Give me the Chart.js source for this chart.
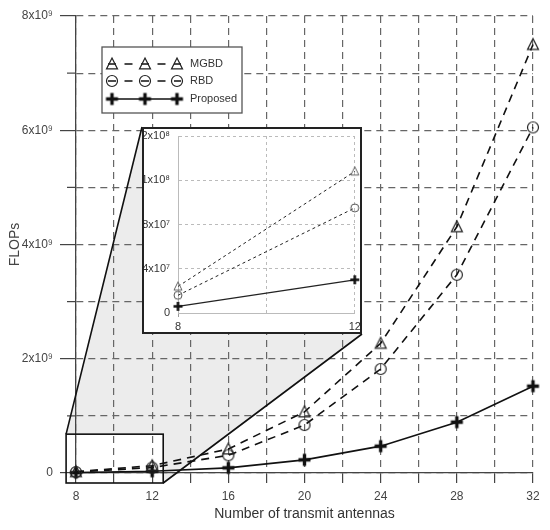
<!DOCTYPE html>
<html>
<head>
<meta charset="utf-8">
<script src="https://cdn.jsdelivr.net/npm/chart.js@4.4.1/dist/chart.umd.min.js"></script>
<style>
  html, body { margin: 0; padding: 0; background: #fff; }
  #wrap { position: relative; width: 550px; height: 530px; }
  #inset { position: absolute; left: 142px; top: 127px; width: 220px; height: 207px;
           box-sizing: border-box; border: 2px solid #222; background: #fff; }
  canvas { display: block; }
</style>
</head>
<body>
<div id="wrap">
  <canvas id="main" width="550" height="530"></canvas>
  <div id="inset"><canvas id="zoom" width="216" height="203"></canvas></div>
</div>
<script>
// values
const antennas = [8, 12, 16, 20, 24, 28, 32];
const mgbd = [2.4e7, 1.28e8, 4.2e8, 1.07e9, 2.27e9, 4.31e9, 7.5e9];
const rbd = [1.6e7, 9.5e7, 3.1e8, 8.4e8, 1.82e9, 3.47e9, 6.05e9];
const proposed = [6e6, 3.0e7, 9e7, 2.3e8, 4.7e8, 8.9e8, 1.52e9];
const mainYLabels = ['0', '', '2x10⁹', '', '4x10⁹', '', '6x10⁹', '', '8x10⁹'];
const insetYLabels = ['0', '4x10⁷', '8x10⁷', '1x10⁸', '2x10⁸'];
const insetPoints = 2; // the zoomed view only holds 8 and 12 antennas

Chart.defaults.font.family = '"Liberation Sans", Arial, sans-serif';
Chart.defaults.color = '#444';

function marker(kind, s, lw, color) {
  const n = Math.ceil(s + lw * 2 + 2);
  const c = document.createElement('canvas');
  c.width = n; c.height = n;
  const g = c.getContext('2d');
  const m = n / 2;
  g.strokeStyle = color;
  g.lineWidth = lw;
  g.beginPath();
  if (kind === 'tri') {
    const h = s * 0.9;
    g.moveTo(m, m - h / 2 - 1);
    g.lineTo(m + s / 2, m + h / 2);
    g.lineTo(m - s / 2, m + h / 2);
    g.closePath();
  } else if (kind === 'circ') {
    g.arc(m, m, s / 2, 0, Math.PI * 2);
  } else {
    g.moveTo(m - s / 2, m); g.lineTo(m + s / 2, m);
    g.moveTo(m, m - s / 2); g.lineTo(m, m + s / 2);
  }
  g.stroke();
  return c;
}

const triBig = marker('tri', 11, 1.2, '#222');
const circBig = marker('circ', 11, 1.2, '#222');
const plusBig = marker('plus', 12, 3.4, '#111');
const triSmall = marker('tri', 8, 1, '#666');
const circSmall = marker('circ', 8, 1, '#555');
const plusSmall = marker('plus', 9, 2.6, '#111');

const pts = (ys, n) => antennas.slice(0, n).map((x, i) => ({ x: x, y: ys[i] }));

const decor = {
  id: 'decor',
  beforeDraw(chart) {
    const { ctx, scales: { x, y } } = chart;
    const L = x.getPixelForValue(7.48), R = x.getPixelForValue(12.58);
    const T = y.getPixelForValue(6.8e8), B = y.getPixelForValue(-1.75e8);
    ctx.save();
    ctx.fillStyle = '#ececec';
    ctx.beginPath();
    ctx.moveTo(L, T);
    ctx.lineTo(142, 127);
    ctx.lineTo(362, 334);
    ctx.lineTo(R, B);
    ctx.lineTo(R, T);
    ctx.closePath();
    ctx.fill();
    ctx.restore();
  },
  afterDraw(chart) {
    const { ctx, scales: { x, y } } = chart;
    ctx.save();
    // short minor ticks on the y axis
    ctx.strokeStyle = '#444';
    ctx.lineWidth = 1.2;
    [1e9, 3e9, 5e9, 7e9].forEach(v => {
      const py = y.getPixelForValue(v);
      ctx.beginPath(); ctx.moveTo(x.left - 9, py); ctx.lineTo(x.left, py); ctx.stroke();
    });
    // zoom box and connectors
    const L = x.getPixelForValue(7.48), R = x.getPixelForValue(12.58);
    const T = y.getPixelForValue(6.8e8), B = y.getPixelForValue(-1.75e8);
    ctx.strokeStyle = '#111';
    ctx.lineWidth = 1.6;
    ctx.strokeRect(L, T, R - L, B - T);
    ctx.beginPath();
    ctx.moveTo(L, T); ctx.lineTo(142, 127);
    ctx.moveTo(R, B); ctx.lineTo(362, 334);
    ctx.stroke();

    // legend
    ctx.fillStyle = '#fff';
    ctx.fillRect(102, 47, 140, 66);
    ctx.strokeStyle = '#555';
    ctx.lineWidth = 1.3;
    ctx.strokeRect(102, 47, 140, 66);
    const rows = [
      { label: 'MGBD', img: triBig, dash: [8, 8.5], y: 64 },
      { label: 'RBD', img: circBig, dash: [8, 8.5], y: 81 },
      { label: 'Proposed', img: plusBig, dash: [], y: 99 }
    ];
    const xs = [112, 145, 177];
    ctx.font = '11px "Liberation Sans", Arial, sans-serif';
    ctx.textBaseline = 'middle';
    rows.forEach(r => {
      ctx.strokeStyle = '#111';
      ctx.lineWidth = 1.5;
      ctx.setLineDash(r.dash);
      ctx.lineDashOffset = 0;
      ctx.beginPath();
      ctx.moveTo(xs[0] - 4, r.y); ctx.lineTo(xs[2] + 4, r.y);
      ctx.stroke();
      ctx.setLineDash([]);
      xs.forEach(px => ctx.drawImage(r.img, px - r.img.width / 2, r.y - r.img.height / 2));
      ctx.fillStyle = '#333';
      ctx.fillText(r.label, 190, r.y);
    });
    ctx.restore();
  }
};

new Chart(document.getElementById('main'), {
  type: 'line',
  data: {
    datasets: [
      { label: 'MGBD', data: pts(mgbd, antennas.length), borderColor: '#111', borderWidth: 1.6,
        borderDash: [8, 6], pointStyle: triBig, pointRadius: 6, clip: false },
      { label: 'RBD', data: pts(rbd, antennas.length), borderColor: '#111', borderWidth: 1.6,
        borderDash: [8, 6], pointStyle: circBig, pointRadius: 6, clip: false },
      { label: 'Proposed', data: pts(proposed, antennas.length), borderColor: '#111', borderWidth: 1.6,
        pointStyle: plusBig, pointRadius: 6, clip: false }
    ]
  },
  options: {
    responsive: false,
    animation: false,
    layout: { padding: { top: 16, right: 17, left: 0, bottom: 0 } },
    plugins: { legend: { display: false }, tooltip: { enabled: false } },
    scales: {
      x: {
        type: 'linear', min: 8, max: 32,
        ticks: { stepSize: 2, autoSkip: false, maxRotation: 0, padding: 6, font: { size: 12 },
                 callback: v => (v % 4 === 0 ? String(v) : '') },
        grid: { color: '#666', lineWidth: 1.2, tickLength: 10, tickColor: '#444', tickWidth: 1.2, tickBorderDash: [] },
        border: { color: '#444', width: 1.3, dash: [7, 5] },
        title: { display: true, text: 'Number of transmit antennas', color: '#333',
                 font: { size: 14 }, padding: { top: 0, bottom: 7 } },
        afterFit: s => { s.height = 57; s.paddingLeft = 0; s.paddingRight = 0; }
      },
      y: {
        min: 0, max: 8e9,
        ticks: { stepSize: 1e9, autoSkip: false, padding: 7, font: { size: 12 },
                 callback: (v, i) => mainYLabels[i] },
        grid: { color: '#666', lineWidth: 1.2, tickLength: 16, tickWidth: 1.2, tickBorderDash: [],
                tickColor: c => (c.tick && c.tick.value % 2e9 === 0 ? '#444' : 'rgba(0,0,0,0)') },
        border: { color: '#444', width: 1.3, dash: [7, 5] },
        title: { display: true, text: 'FLOPs', color: '#444', font: { size: 14 },
                 padding: { top: 7, bottom: 0 } },
        afterFit: s => { s.width = 76; s.paddingTop = 0; s.paddingBottom = 0; }
      }
    }
  },
  plugins: [decor]
});

new Chart(document.getElementById('zoom'), {
  type: 'line',
  data: {
    datasets: [
      { data: pts(mgbd, insetPoints), borderColor: '#222', borderWidth: 1, borderDash: [3, 3],
        pointStyle: triSmall, pointRadius: 4, clip: false },
      { data: pts(rbd, insetPoints), borderColor: '#222', borderWidth: 1, borderDash: [3, 3],
        pointStyle: circSmall, pointRadius: 4, clip: false },
      { data: pts(proposed, insetPoints), borderColor: '#222', borderWidth: 1.2,
        pointStyle: plusSmall, pointRadius: 4, clip: false }
    ]
  },
  options: {
    responsive: false,
    animation: false,
    layout: { padding: { top: 7, right: 5, left: 0, bottom: 0 } },
    plugins: { legend: { display: false }, tooltip: { enabled: false } },
    scales: {
      x: {
        type: 'linear', min: 8, max: 12,
        ticks: { stepSize: 2, autoSkip: false, maxRotation: 0, padding: 3, color: '#333', font: { size: 11 },
                 callback: v => (v === 8 || v === 12 ? String(v) : '') },
        grid: { color: '#bbb', lineWidth: 1, tickLength: 4, tickBorderDash: [],
                tickColor: c => (c.tick && c.tick.value === 8 ? '#999' : 'rgba(0,0,0,0)') },
        border: { color: '#bbb', width: 1, dash: [3, 3] },
        afterFit: s => { s.height = 19; s.paddingLeft = 0; s.paddingRight = 0; }
      },
      y: {
        min: 0, max: 1.6e8,
        ticks: { stepSize: 4e7, autoSkip: false, padding: 8, color: '#333', font: { size: 11 },
                 callback: (v, i) => insetYLabels[i] },
        grid: { color: '#bbb', lineWidth: 1, drawTicks: false },
        border: { color: '#bbb', width: 1, dash: [3, 3] },
        afterFit: s => { s.width = 34; s.paddingTop = 0; s.paddingBottom = 0; }
      }
    }
  }
});
</script>
</body>
</html>
